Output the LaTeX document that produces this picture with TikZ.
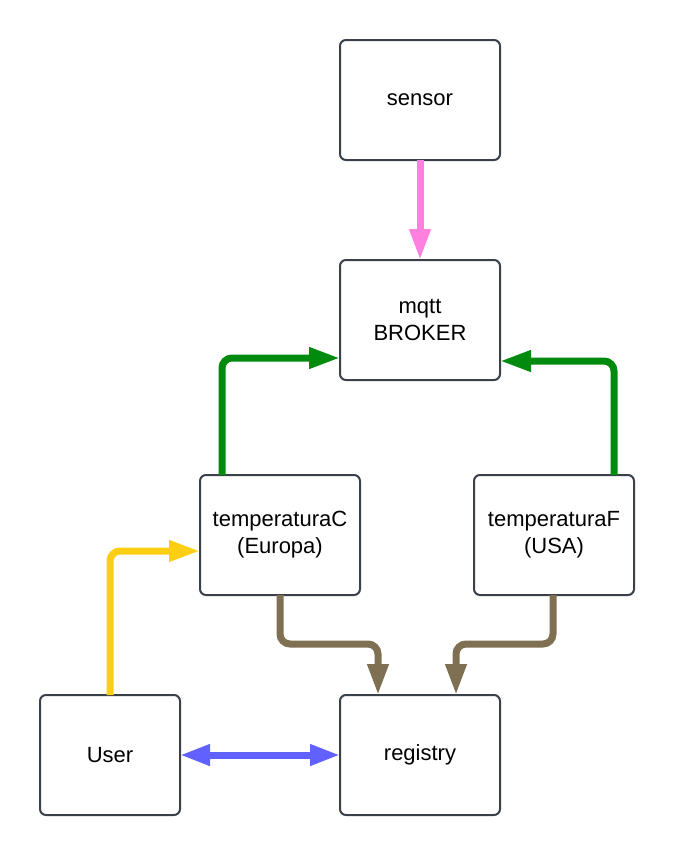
\documentclass[tikz,border=0pt]{standalone}
\usepackage{fontspec}
\setmainfont{Liberation Sans}
\usetikzlibrary{arrows.meta,calc}
\definecolor{boxline}{HTML}{3A414A}
\definecolor{cpink}{HTML}{FF80DF}
\definecolor{cgreen}{HTML}{008A0E}
\definecolor{cbrown}{HTML}{7F7053}
\definecolor{cblue}{HTML}{6161FF}
\definecolor{cyellow}{HTML}{FCCE14}
\tikzset{
  box/.style={draw=boxline, line width=2pt, rounded corners=6pt, fill=white,
    minimum width=160pt, minimum height=120pt, inner sep=0pt, outer sep=0pt,
    align=center, font=\fontsize{22}{27}\selectfont},
  conn/.style={line width=7pt, rounded corners=10pt,
    -{Triangle[length=31pt,width=20pt]}},
}
\begin{document}
\begin{tikzpicture}[x=1pt,y=-1pt]
\useasboundingbox (0,0) rectangle (675,855);
\node[box] (sensor) at (420,100) {sensor};
\node[box] (mq) at (420,320) {mqtt\\BROKER};
\node[box] (tc) at (280,535) {temperaturaC\\(Europa)};
\node[box] (tf) at (554,535) {temperaturaF\\(USA)};
\node[box, minimum width=140pt] (user) at (110,755) {User};
\node[box] (reg) at (420,755) {registry};

\draw[conn, cpink] (sensor.south) -- (mq.north);
\draw[conn, cgreen] ($(tc.north west)+(22,0)$) |- ($(mq.west)+(0,38)$);
\draw[conn, cgreen] ($(tf.north east)+(-20,0)$) |- ($(mq.east)+(0,41)$);
\draw[conn, cyellow] (user.north) |- ($(tc.west)+(0,16)$);
\draw[conn, cbrown] ($(tc.south west)+(80,0)$) -- ++(0,49) -| ($(reg.north west)+(38,0)$);
\draw[conn, cbrown] ($(tf.south west)+(79,0)$) -- ++(0,49) -| ($(reg.north east)+(-44,0)$);
\draw[line width=7pt, cblue, {Triangle[length=30pt,width=20pt]}-{Triangle[length=30pt,width=20pt]}] (user.east) -- (reg.west);
\end{tikzpicture}
\end{document}
